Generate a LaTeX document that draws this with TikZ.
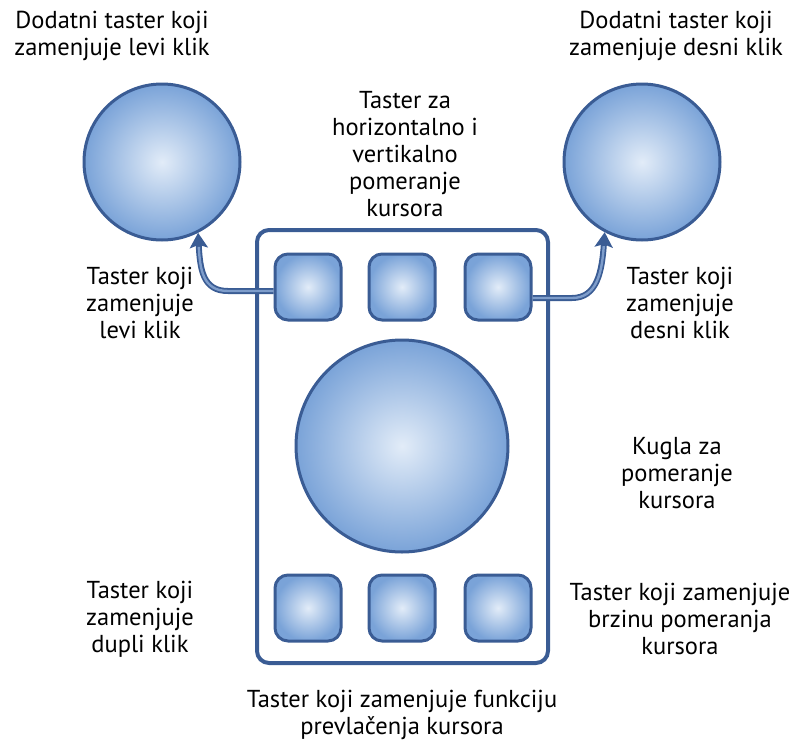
\documentclass[tikz,border=0pt]{standalone}
\usepackage{fontspec}
\setmainfont{PT Sans}
\usetikzlibrary{arrows.meta}
\definecolor{rub}{HTML}{3A5C94}
\definecolor{svetla}{HTML}{E2ECF8}
\definecolor{tamna}{HTML}{7AA3D8}
\definecolor{srednja}{HTML}{7E9DCB}
\tikzset{
	kugla/.style={circle, draw=rub, line width=3pt, inner sep=0pt, shading=radial, inner color=svetla, outer color=tamna},
	dugme/.style={rounded corners=13pt, draw=rub, line width=3pt, inner sep=0pt, minimum size=66pt, shading=radial, inner color=svetla, outer color=tamna},
	opis/.style={align=center, font=\fontsize{24.5}{26.8}\selectfont},
	strelica/.style={rub, line width=6pt, -{Stealth[length=15pt,width=18pt,inset=3pt]}, postaction={draw=srednja, line width=2.4pt, -, shorten >=14pt}}
}
\begin{document}
\begin{tikzpicture}[x=1pt,y=-1pt]
				\useasboundingbox (0,0) rectangle (807,745);
				% kucište
				\draw[rub, line width=4pt, rounded corners=12pt] (257,230) rectangle (548,663);
				\node[kugla, minimum size=156pt] (levakugla) at (162,162) {};
				\node[kugla, minimum size=156pt] (desnakugla) at (642,162) {};
				\node[kugla, minimum size=212pt] (kugla) at (402,446) {};
				\foreach \i/\x in {1/308,2/402,3/498}
				{
					\node[dugme] (gore\i) at (\x,287) {};
					\node[dugme] (dole\i) at (\x,608) {};
				}
				% strelice
				\draw[strelica] ([yshift=-4pt]gore1.west) -- (228,291) .. controls (203,291) and (200,270) .. (levakugla.-63);
				\draw[strelica] ([yshift=-11pt]gore3.east) -- (572,298) .. controls (597,298) and (602,272) .. (desnakugla.-118);
				% natpisi
				\node[opis] (t1) at (112,36) {Dodatni taster koji\\zamenjuje levi klik};
				\node[opis] (t2) at (676,36) {Dodatni taster koji\\zamenjuje desni klik};
				\node[opis] (t3) at (405,154) {Taster za\\horizontalno i\\vertikalno\\pomeranje\\kursora};
				\node[opis] (t4) at (140,303) {Taster koji\\zamenjuje\\levi klik};
				\node[opis] (t5) at (680,303) {Taster koji\\zamenjuje\\desni klik};
				\node[opis] (t6) at (677,473) {Kugla za\\pomeranje\\kursora};
				\node[opis] (t7) at (140,619) {Taster koji\\zamenjuje\\dupli klik};
				\node[opis] (t8) at (680,619) {Taster koji zamenjuje\\brzinu pomeranja\\kursora};
				\node[opis] (t9) at (402,715) {Taster koji zamenjuje funkciju\\prevlačenja kursora};
			\end{tikzpicture}
\end{document}
